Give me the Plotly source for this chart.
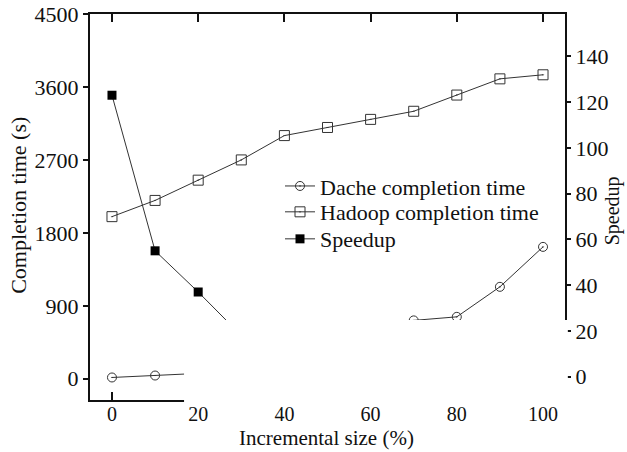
import plotly.graph_objects as go

x_pct = [0, 10, 20, 30, 40, 50, 60, 70, 80, 90, 100]
dache_time = [16, 40, 66, 150, 250, 350, 500, 720, 764, 1134, 1627]
hadoop_time = [2000, 2200, 2450, 2700, 3000, 3100, 3200, 3300, 3500, 3700, 3750]
speedup = [123, 55, 37, 18, 12, 8.9, 6.4, 4.6, 4.6, 3.3, 2.3]

left_ticks = [0, 900, 1800, 2700, 3600, 4500]
right_ticks = [0, 20, 40, 60, 80, 100, 120, 140]
x_ticks = [0, 20, 40, 60, 80, 100]

FONT = "Liberation Serif"
FS = 22
TFS = 20
LC = "#333333"

fig = go.Figure()
fig.add_trace(go.Scatter(
    x=x_pct, y=dache_time, name="Dache completion time", mode="lines+markers",
    line=dict(color=LC, width=1), legend="legend",
    marker=dict(symbol="circle-open-dot", size=9, color=LC, line=dict(width=1, color=LC)),
))
fig.add_trace(go.Scatter(
    x=x_pct, y=hadoop_time, name="Hadoop completion time", mode="lines+markers",
    line=dict(color=LC, width=1), legend="legend2",
    marker=dict(symbol="square-open-dot", size=10, color=LC, line=dict(width=1, color=LC)),
))
fig.add_trace(go.Scatter(
    x=x_pct, y=speedup, name="Speedup", mode="lines+markers", yaxis="y2",
    line=dict(color=LC, width=1), legend="legend3",
    marker=dict(symbol="square", size=9, color="#000000"),
))

# white patch occluding the lower middle of the original picture
fig.add_shape(type="rect", xref="paper", yref="paper",
              x0=0.198, x1=1.006, y0=-0.009, y1=0.207,
              fillcolor="white", line=dict(width=0), layer="above")

def leg(yc):
    return dict(x=0.4, y=yc, xanchor="left", yanchor="middle",
                bgcolor="rgba(0,0,0,0)", font=dict(family=FONT, size=FS),
                itemwidth=30, borderwidth=0)

fig.update_layout(
    template="none",
    width=627, height=452,
    margin=dict(l=90, r=62, t=14, b=52, autoexpand=False),
    paper_bgcolor="white", plot_bgcolor="white",
    font=dict(family=FONT, size=FS, color="#111111"),
    showlegend=True,
    legend=leg(0.554), legend2=leg(0.487), legend3=leg(0.417),
    xaxis=dict(range=[-5.1, 105.1], tickvals=x_ticks, ticks="inside", ticklen=8,
               tickwidth=2, tickcolor="#111", showline=True, linewidth=2, linecolor="#111",
               mirror="ticks", showgrid=False, zeroline=False, automargin=False,
               ticklabelstandoff=-5, tickfont=dict(family=FONT, size=TFS)),
    yaxis=dict(range=[-262, 4500], tickvals=left_ticks, ticks="outside", ticklen=5,
               tickwidth=2, tickcolor="#111", showline=True, linewidth=2, linecolor="#111",
               showgrid=False, zeroline=False, automargin=False,
               tickfont=dict(family=FONT, size=FS)),
    yaxis2=dict(range=[-10.2, 158.5], tickvals=right_ticks, overlaying="y", side="right",
                ticks="outside", ticklen=4, tickwidth=2, tickcolor="#111",
                showline=True, linewidth=2, linecolor="#111", automargin=False,
                showgrid=False, zeroline=False, tickfont=dict(family=FONT, size=FS)),
    annotations=[
        dict(text="Completion time (s)", xref="paper", yref="paper",
             x=-0.152, y=0.505, textangle=-90, showarrow=False,
             xanchor="center", yanchor="middle", font=dict(family=FONT, size=FS)),
        dict(text="Speedup", xref="paper", yref="paper",
             x=1.1, y=0.49, textangle=-90, showarrow=False,
             xanchor="center", yanchor="middle", font=dict(family=FONT, size=20)),
        dict(text="Incremental size (%)", xref="paper", yref="paper",
             x=0.497, y=-0.134, showarrow=False,
             xanchor="center", yanchor="bottom", font=dict(family=FONT, size=21)),
    ],
)

fig.write_html("out.html", post_script="document.body.style.margin='0';",
               config={"displayModeBar": False})
